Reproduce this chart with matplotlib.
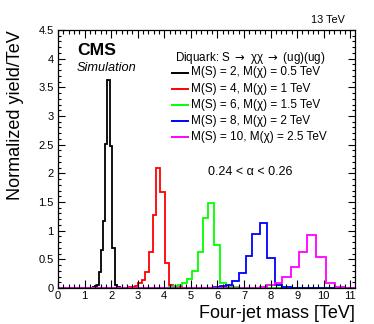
import matplotlib
matplotlib.use("Agg")
import matplotlib.pyplot as plt
from matplotlib.ticker import MultipleLocator, FuncFormatter

plt.rcParams['font.family'] = ['Liberation Sans', 'DejaVu Sans']

# ---------------- data (TeV, normalized yield / TeV) ----------------
x_min, x_max = 0.0, 11.179
y_min, y_max = 0.0, 4.5

black_edges = [1.313, 1.383, 1.455, 1.530, 1.607, 1.687, 1.770, 1.856, 1.945,
               2.037, 2.132, 2.231, 2.332]
black_vals = [0.01, 0.04, 0.06, 0.28, 0.66, 1.16, 2.51, 3.63, 2.48, 0.69, 0.05, 0.01]

red_edges = [2.659, 2.775, 2.895, 3.019, 3.147, 3.279, 3.416, 3.558, 3.704,
             3.854, 4.010, 4.171, 4.337, 4.509, 4.686]
red_vals = [0.01, 0.02, 0.03, 0.08, 0.14, 0.28, 0.63, 1.27, 2.09, 1.68, 0.43, 0.05,
            0.02, 0.01]

green_edges = [4.171, 4.337, 4.509, 4.686, 4.869, 5.058, 5.253, 5.455, 5.663,
               5.877, 6.099, 6.328, 6.564, 6.808]
green_vals = [0.01, 0.03, 0.05, 0.08, 0.15, 0.30, 0.63, 1.22, 1.48, 0.75, 0.09,
              0.03, 0.01]

blue_edges = [5.877, 6.099, 6.328, 6.564, 6.808, 7.060, 7.320, 7.589, 7.866,
              8.152, 8.447, 8.752]
blue_vals = [0.01, 0.03, 0.05, 0.12, 0.26, 0.56, 0.94, 1.13, 0.52, 0.05, 0.01]

magenta_edges = [7.589, 7.866, 8.152, 8.447, 8.752, 9.067, 9.391, 9.726, 10.072,
                 10.430, 10.798]
magenta_vals = [0.02, 0.05, 0.09, 0.19, 0.37, 0.63, 0.92, 0.54, 0.09, 0.01]

labels = ["M(S) = 2, M(χ) = 0.5 TeV",
          "M(S) = 4, M(χ) = 1 TeV",
          "M(S) = 6, M(χ) = 1.5 TeV",
          "M(S) = 8, M(χ) = 2 TeV",
          "M(S) = 10, M(χ) = 2.5 TeV"]
colors = ["#000000", "#ff0000", "#00ff00", "#0000ff", "#ff00ff"]

series = [(black_edges, black_vals), (red_edges, red_vals), (green_edges, green_vals),
          (blue_edges, blue_vals), (magenta_edges, magenta_vals)]

# ---------------- figure ----------------
W, H = 374, 324
fig = plt.figure(figsize=(W / 100, H / 100), dpi=100)
ax = fig.add_axes([58 / W, 36 / H, 297 / W, 258 / H])

for (edges, vals), c in zip(series, colors):
    e = [x_min] + list(edges) + [x_max]
    v = [0.0] + list(vals) + [0.0]
    ax.stairs(v, e, baseline=0, color=c, lw=1.3, fill=False)

ax.set_xlim(x_min, x_max)
ax.set_ylim(y_min, y_max)

ax.xaxis.set_major_locator(MultipleLocator(1))
ax.xaxis.set_minor_locator(MultipleLocator(0.2))
ax.yaxis.set_major_locator(MultipleLocator(0.5))
ax.yaxis.set_minor_locator(MultipleLocator(0.1))
ax.yaxis.set_major_formatter(FuncFormatter(lambda v, p: "%g" % v))
ax.xaxis.set_major_formatter(FuncFormatter(lambda v, p: "%g" % v))

ax.tick_params(which='both', direction='in', top=True, right=True, width=0.8,
               labelsize=8, colors='black')
ax.tick_params(axis='x', which='major', length=6, pad=2.5)
ax.tick_params(axis='x', which='minor', length=3)
ax.tick_params(axis='y', which='major', length=5, pad=3)
ax.tick_params(axis='y', which='minor', length=2.5)
for s in ax.spines.values():
    s.set_linewidth(0.9)

def fx(px):
    return px / W

def fy(py):
    return 1 - py / H

fig.text(fx(355), fy(313), "Four-jet mass [TeV]", ha='right', va='center', fontsize=13)
fig.text(fx(16), fy(30), "Normalized yield/TeV", ha='center', va='top', rotation=90,
         fontsize=13)

fig.text(fx(77), fy(50.5), "CMS", ha='left', va='center', fontsize=12.6, fontweight='bold')
fig.text(fx(77), fy(68), "Simulation", ha='left', va='center', fontsize=9.2, style='italic')
fig.text(fx(345), fy(20), "13 TeV", ha='right', va='center', fontsize=7.8)

fig.text(fx(175), fy(58.5), r"Diquark: S $\rightarrow$ χχ $\rightarrow$ (ug)(ug)",
         ha='left', va='center', fontsize=8.4)

row_y = [72.5, 88.6, 104.7, 120.8, 136.9]
for ry, lab, c in zip(row_y, labels, colors):
    fig.add_artist(plt.Line2D([fx(172), fx(188)], [fy(ry), fy(ry)], color=c, lw=1.4,
                              transform=fig.transFigure))
    fig.text(fx(191), fy(ry), lab, ha='left', va='center', fontsize=8.5)

fig.text(fx(208), fy(171.7), "0.24 < α < 0.26", ha='left', va='center', fontsize=9)

fig.savefig("out.png", dpi=100)
